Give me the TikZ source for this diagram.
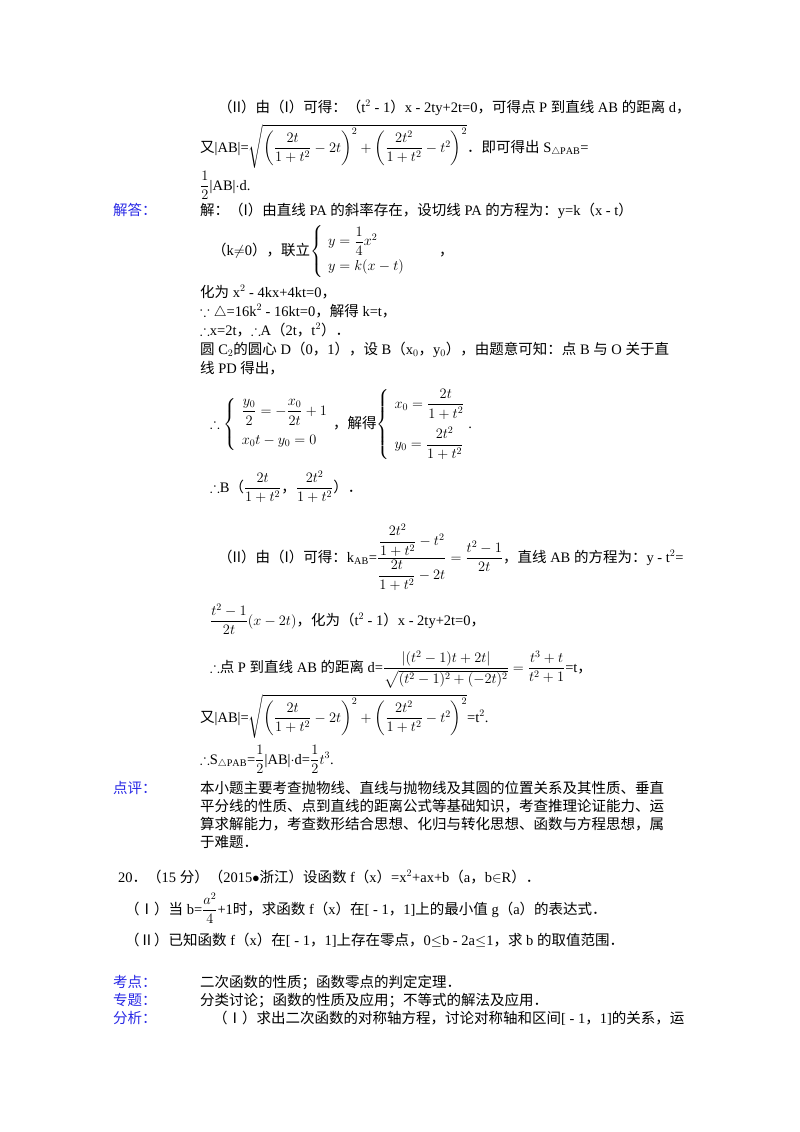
\documentclass[tikz,border=0pt]{standalone}
\usepackage{amsmath,amssymb}
\usepackage{fontspec}
\setmainfont{Liberation Serif}
\newfontfamily\cjk{Noto Sans CJK SC}
\newcommand\zh[1]{{\cjk #1}}
\definecolor{lblblue}{RGB}{40,40,230}
\begin{document}
\begin{tikzpicture}[x=1pt,y=-1pt,
  tx/.style={anchor=base west,inner sep=0pt,font=\fontsize{14.5}{17}\selectfont},
  lb/.style={tx,text=lblblue}]
\useasboundingbox (0,0) rectangle (800,1132);
\fill[white] (0,0) rectangle (800,1132);
\node[tx] (l1) at (218,112) {\zh{（II）由（I）可得：（}t$^2$ - 1\zh{）}x - 2ty+2t=0\zh{，可得点} P \zh{到直线} AB \zh{的距离} d\zh{，}};
\node[tx] (l2) at (200,152) {\zh{又}|AB|=$\sqrt{\left(\dfrac{2t}{1+t^2}-2t\right)^2+\left(\dfrac{2t^2}{1+t^2}-t^2\right)^2}$\zh{．即可得出} S$_{\triangle\mathrm{PAB}}$=};
\node[tx] (l3) at (200,190) {$\dfrac12$|AB|$\cdot$d.};
\node[lb] (a1) at (113,215) {\zh{解答：}};
\node[tx] (l4) at (200,215) {\zh{解：（I）由直线} PA \zh{的斜率存在，设切线} PA \zh{的方程为：}y=k\zh{（}x - t\zh{）}};
\node[tx] (l5) at (212,255) {\zh{（}k$\neq$0\zh{），联立}$\left\{\begin{array}{l} y=\dfrac14x^2\\[8pt] y=k(x-t)\end{array}\right.$\qquad\zh{，}};
\node[tx] (l6) at (200,297) {\zh{化为} x$^2$ - 4kx+4kt=0\zh{，}};
\node[tx] (l7) at (200,316) {$\because\triangle$=16k$^2$ - 16kt=0\zh{，解得} k=t\zh{，}};
\node[tx] (l8) at (200,335) {$\therefore$x=2t\zh{，}$\therefore$A\zh{（}2t\zh{，}t$^2$\zh{）．}};
\node[tx] (l9) at (200,354) {\zh{圆} C$_2$\zh{的圆心} D\zh{（}0\zh{，}1\zh{），设} B\zh{（}x$_0$\zh{，}y$_0$\zh{），由题意可知：点} B \zh{与} O \zh{关于直}};
\node[tx] (l10) at (200,373) {\zh{线} PD \zh{得出，}};
\node[tx] (l11) at (210,428) {$\therefore\left\{\begin{array}{l}\dfrac{y_0}{2}=-\dfrac{x_0}{2t}+1\\[12pt] x_0t-y_0=0\end{array}\right.$\zh{，解得}$\left\{\begin{array}{l}x_0=\dfrac{2t}{1+t^2}\\[14pt] y_0=\dfrac{2t^2}{1+t^2}\end{array}\right.$\!.};
\node[tx] (l12) at (210,492) {$\therefore$B\zh{（}$\dfrac{2t}{1+t^2}$\zh{，}$\dfrac{2t^2}{1+t^2}$\zh{）．}};
\node[tx] (l13) at (218,562) {\zh{（II）由（I）可得：}k$_{\mathrm{AB}}$=$\dfrac{\dfrac{2t^2}{1+t^2}-t^2}{\dfrac{2t}{1+t^2}-2t}=\dfrac{t^2-1}{2t}$\zh{，直线} AB \zh{的方程为：}y - t$^2$=};
\node[tx] (l14) at (210,625) {$\dfrac{t^2-1}{2t}(x-2t)$\zh{，化为（}t$^2$ - 1\zh{）}x - 2ty+2t=0\zh{，}};
\node[tx] (l15) at (210,672) {$\therefore$\zh{点} P \zh{到直线} AB \zh{的距离} d=$\dfrac{|(t^2-1)t+2t|}{\sqrt{(t^2-1)^2+(-2t)^2}}=\dfrac{t^3+t}{t^2+1}$=t\zh{，}};
\node[tx] (l16) at (200,722) {\zh{又}|AB|=$\sqrt{\left(\dfrac{2t}{1+t^2}-2t\right)^2+\left(\dfrac{2t^2}{1+t^2}-t^2\right)^2}$=t$^2$.};
\node[tx] (l17) at (200,764) {$\therefore$S$_{\triangle\mathrm{PAB}}$=$\dfrac12$|AB|$\cdot$d=$\dfrac12t^3$.};
\node[lb] (a2) at (113,793) {\zh{点评：}};
\node[tx] (p1) at (200,793) {\zh{本小题主要考查抛物线、直线与抛物线及其圆的位置关系及其性质、垂直}};
\node[tx] (p2) at (200,811) {\zh{平分线的性质、点到直线的距离公式等基础知识，考查推理论证能力、运}};
\node[tx] (p3) at (200,829) {\zh{算求解能力，考查数形结合思想、化归与转化思想、函数与方程思想，属}};
\node[tx] (p4) at (200,847) {\zh{于难题．}};
\node[tx] (q0) at (118,882) {20\zh{．（}15 \zh{分）（}2015$\bullet$\zh{浙江）设函数} f\zh{（}x\zh{）}=x$^2$+ax+b\zh{（}a\zh{，}b$\in$R\zh{）．}};
\node[tx] (q1) at (125,914) {\zh{（Ⅰ）当} b=$\dfrac{a^2}{4}$+1\zh{时，求函数} f\zh{（}x\zh{）在}[ - 1\zh{，}1]\zh{上的最小值} g\zh{（}a\zh{）的表达式．}};
\node[tx] (q2) at (125,945) {\zh{（Ⅱ）已知函数} f\zh{（}x\zh{）在}[ - 1\zh{，}1]\zh{上存在零点，}0$\leq$b - 2a$\leq$1\zh{，求} b \zh{的取值范围．}};
\node[lb] (k1) at (113,987) {\zh{考点：}};
\node[tx] (k1t) at (200,987) {\zh{二次函数的性质；函数零点的判定定理．}};
\node[lb] (k2) at (113,1005) {\zh{专题：}};
\node[tx] (k2t) at (200,1005) {\zh{分类讨论；函数的性质及应用；不等式的解法及应用．}};
\node[lb] (k3) at (113,1023) {\zh{分析：}};
\node[tx] (k3t) at (213,1023) {\zh{（Ⅰ）求出二次函数的对称轴方程，讨论对称轴和区间}[ - 1\zh{，}1]\zh{的关系，运}};
\end{tikzpicture}
\end{document}
